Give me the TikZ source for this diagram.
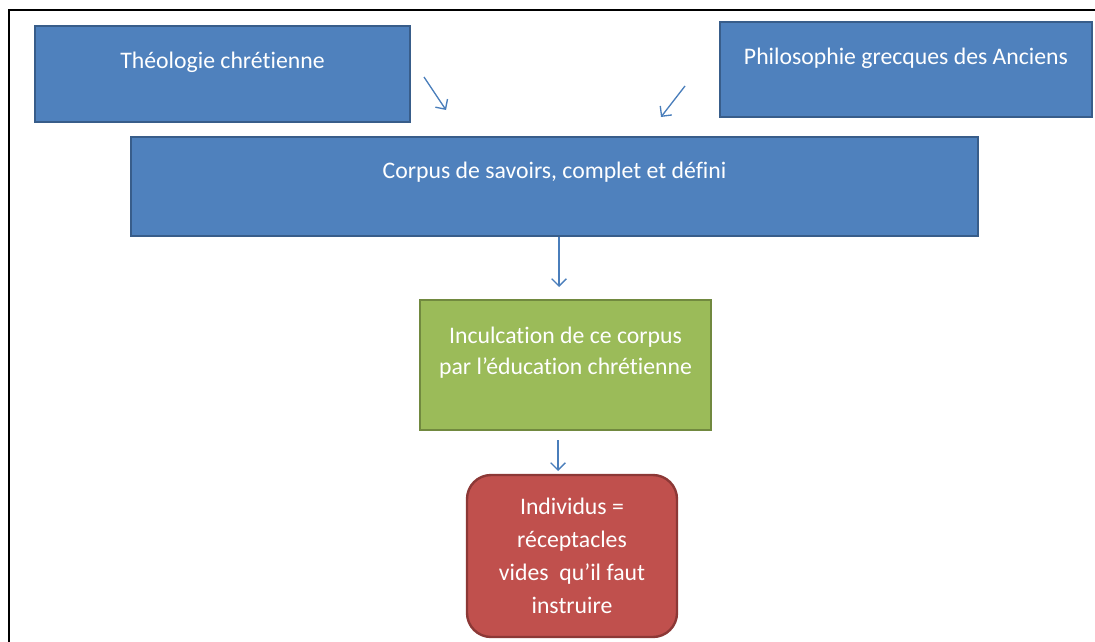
\documentclass[tikz,border=0pt]{standalone}
\usepackage{fontspec}
\setmainfont{Carlito}[Ligatures=NoCommon]
\usetikzlibrary{arrows.meta}

\definecolor{boxblue}{HTML}{4F81BD}
\definecolor{lineblue}{HTML}{385D8A}
\definecolor{boxgreen}{HTML}{9BBB59}
\definecolor{linegreen}{HTML}{71893F}
\definecolor{boxred}{HTML}{C0504D}
\definecolor{linered}{HTML}{8C3836}
\definecolor{arrowblue}{HTML}{4A7EBB}

\begin{document}
\begin{tikzpicture}[x=0.75pt,y=-0.75pt,
	blk/.style={rectangle, line width=1.8pt, inner sep=0pt},
	txt/.style={text=white, font=\fontsize{17.8}{24}\selectfont, align=center, inner sep=0pt},
	arr/.style={draw=arrowblue, line width=1pt, -{Straight Barb[length=5.5pt,width=11pt]}}]

\useasboundingbox (0,0) rectangle (1095,642);
\draw[line width=2.2pt] (9,642) -- (9,10) -- (1095,10);

% top boxes
\node[blk, draw=lineblue, fill=boxblue, minimum width=281.25pt, minimum height=72pt] (theo) at (222.5,74) {};
\node[blk, draw=lineblue, fill=boxblue, minimum width=279pt, minimum height=71.25pt] (philo) at (906,69.5) {};
\node[blk, draw=lineblue, fill=boxblue, minimum width=635.25pt, minimum height=74.25pt] (corpus) at (554.5,186.5) {};

\node[txt] (theoT) at ([yshift=9pt]theo.center) {Théologie chrétienne};
\node[txt] (philoT) at ([yshift=8.6pt]philo.center) {Philosophie grecques des Anciens};
\node[txt] (corpusT) at ([yshift=10.9pt]corpus.center) {Corpus de savoirs, complet et défini};

% middle and bottom
\node[blk, draw=linegreen, fill=boxgreen, minimum width=218.25pt, minimum height=97.5pt] (incul) at (565.5,365) {};
\node[txt, font=\fontsize{17.8}{23.25}\selectfont] (inculT) at ([yshift=9.4pt]incul.center) {Inculcation de ce corpus\\par l’éducation chrétienne};

\node[blk, draw=linered, fill=boxred, rounded corners=18pt, minimum width=157.5pt, minimum height=121.5pt,
	txt, font=\fontsize{17.8}{24.75}\selectfont] (indiv) at (572,556) {Individus =\\réceptacles\\vides\ \ qu’il faut\\instruire};

\coordinate (a1) at (424,77);
\coordinate (a2) at (446,110);
\coordinate (b1) at (685,86);
\coordinate (b2) at (661,117);
\coordinate (c2) at (559,287);
\coordinate (d1) at (558,440);
\coordinate (d2) at (558,471);

\draw[arr] (a1) -- (a2);
\draw[arr] (b1) -- (b2);
\draw[arr] (corpus.south -| c2) -- (c2);
\draw[arr] (d1) -- (d2);

\end{tikzpicture}
\end{document}
